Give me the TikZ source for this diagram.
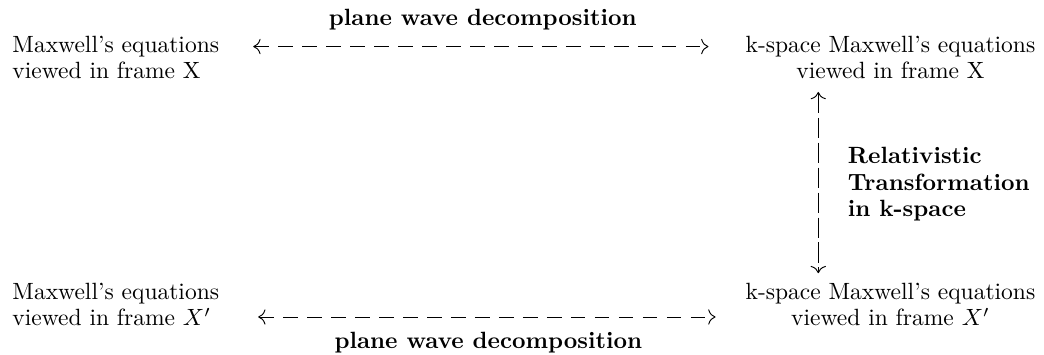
\documentclass[tikz,border=0pt]{standalone}
\usepackage{amsmath}
\usepackage{tikz}
\usetikzlibrary{arrows.meta}

\begin{document}
\begin{tikzpicture}[x=1pt,y=1pt,>={Computer Modern Rightarrow[scale=1.25]},
eqn/.style={inner sep=0pt,font=\fontsize{10}{11.2}\selectfont},
lbl/.style={inner sep=0pt,font=\fontsize{10}{11.2}\selectfont\bfseries},
hlink/.style={<->,dash pattern=on 6.2pt off 4pt},
vlink/.style={<->,dash pattern=on 8.6pt off 2pt}]
\useasboundingbox(0,0)rectangle(444,-150.6);
% frame X
\node[eqn,anchor=north west,align=left](maxX)at(5.1,-15.2){Maxwell's equations\\viewed in frame X};
\node[eqn,anchor=north,align=center](kX)at(378.7,-15.2){k-space Maxwell's equations\\viewed in frame X};
% frame X'
\node[eqn,anchor=north west,align=left](maxXp)at(5.1,-120.2){Maxwell's equations\\viewed in frame $X'$};
\node[eqn,anchor=north,align=center](kXp)at(378.7,-120.2){k-space Maxwell's equations\\viewed in frame $X'$};
% labels
\node[lbl,anchor=north](pwTop)at(205.3,-3.7){plane wave decomposition};
\node[lbl,anchor=north](pwBot)at(207.7,-141.1){plane wave decomposition};
\node[lbl,anchor=north west,align=left](rel)at(360.4,-62.5){Relativistic\\Transformation\\in k-space};
% arrows
\coordinate(tA)at(107.7,-19.8);
\coordinate(tB)at(301.3,-19.8);
\coordinate(bA)at(109.8,-134.8);
\coordinate(bB)at(304.3,-134.8);
\coordinate(vA)at(348,-39.1);
\coordinate(vB)at(348,-116.2);
\draw[hlink](tA)--(tB);
\draw[hlink](bA)--(bB);
\draw[vlink](vA)--(vB);
\end{tikzpicture}
\end{document}
